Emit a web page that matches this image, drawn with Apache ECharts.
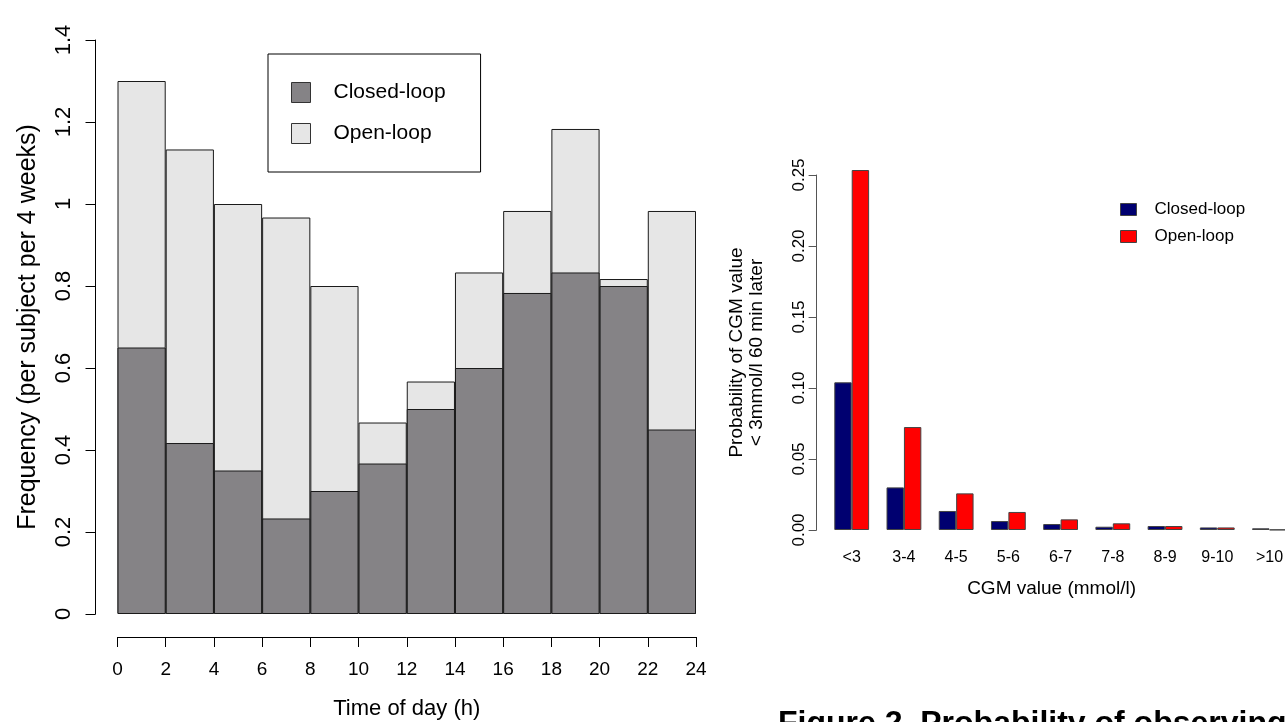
<!DOCTYPE html>
<html>
<head>
<meta charset="utf-8">
<script src="https://cdn.jsdelivr.net/npm/echarts@6/dist/echarts.min.js"></script>
<style>
html,body{margin:0;padding:0;background:#fff;}
#left{position:absolute;left:0;top:0;width:720px;height:722px;}
#right{position:absolute;left:700px;top:0;width:585px;height:722px;}
</style>
</head>
<body>
<div id="left"></div>
<div id="right"></div>
<script>
// ---- Left chart data ----
const timeBins = ['0-2','2-4','4-6','6-8','8-10','10-12','12-14','14-16','16-18','18-20','20-22','22-24'];
const timeTicksMin = 0;
const timeTicksMax = 24;
const timeTickStep = 2;
const openLoopFreq = [1.3, 1.133, 1.0, 0.967, 0.8, 0.467, 0.567, 0.833, 0.983, 1.183, 0.817, 0.983];
const closedLoopFreq = [0.65, 0.417, 0.35, 0.233, 0.3, 0.367, 0.5, 0.6, 0.783, 0.833, 0.8, 0.45];

// ---- Right chart data ----
const cgmCategories = ['<3','3-4','4-5','5-6','6-7','7-8','8-9','9-10','>10'];
const closedLoopProb = [0.104, 0.030, 0.0134, 0.0063, 0.0042, 0.0023, 0.0028, 0.0018, 0.0012];
const openLoopProb = [0.2535, 0.0725, 0.0258, 0.0127, 0.0075, 0.0047, 0.0028, 0.0018, 0.0002];

const FONT = '"Liberation Sans", Arial, sans-serif';

// ---------------- Left chart ----------------
const left = echarts.init(document.getElementById('left'), null, {renderer: 'canvas'});
left.setOption({
  animation: false,
  textStyle: {fontFamily: FONT, color: '#000'},
  grid: {left: 117.5, top: 40, width: 578.5, height: 574, outerBoundsMode: 'none', containLabel: false},
  legend: {
    orient: 'vertical',
    left: 268, top: 54,
    data: ['Closed-loop', 'Open-loop'],
    icon: 'rect',
    itemWidth: 19, itemHeight: 20, itemGap: 20,
    padding: [28, 35, 28, 23],
    borderColor: '#000', borderWidth: 1, borderRadius: 0,
    textStyle: {fontFamily: FONT, fontSize: 21, color: '#000', lineHeight: 20, padding: [0, 0, 0, 18]},
    itemStyle: {borderColor: '#333', borderWidth: 1}
  },
  xAxis: [
    {type: 'category', data: timeBins, show: false, boundaryGap: true},
    {
      type: 'value', min: timeTicksMin, max: timeTicksMax, interval: timeTickStep,
      position: 'bottom', offset: 23,
      axisLine: {show: true, onZero: false, lineStyle: {color: '#000', width: 1}},
      axisTick: {show: true, length: 10, lineStyle: {color: '#000'}},
      splitLine: {show: false},
      axisLabel: {fontFamily: FONT, fontSize: 19, color: '#000', margin: 23},
      name: 'Time of day (h)', nameLocation: 'middle', nameGap: 61,
      nameTextStyle: {fontFamily: FONT, fontSize: 22, color: '#000'}
    }
  ],
  yAxis: {
    type: 'value', min: 0, max: 1.4, interval: 0.2, offset: 22,
    axisLine: {show: true, onZero: false, lineStyle: {color: '#000', width: 1}},
    axisTick: {show: true, length: 10, lineStyle: {color: '#000'}},
    splitLine: {show: false},
    axisLabel: {
      fontFamily: FONT, fontSize: 22, color: '#000', rotate: 90, margin: 21,
      formatter: v => String(Math.round(v * 10) / 10)
    },
    name: 'Frequency (per subject per 4 weeks)', nameLocation: 'middle', nameRotate: 90, nameGap: 55,
    nameTextStyle: {fontFamily: FONT, fontSize: 25, color: '#000'}
  },
  series: [
    {
      name: 'Open-loop', type: 'bar', xAxisIndex: 0, data: openLoopFreq,
      barWidth: '100%', barGap: '-100%',
      itemStyle: {color: '#e6e6e6', borderColor: '#1a1a1a', borderWidth: 1}
    },
    {
      name: 'Closed-loop', type: 'bar', xAxisIndex: 0, data: closedLoopFreq,
      barWidth: '100%', barGap: '-100%',
      itemStyle: {color: '#858386', borderColor: '#1a1a1a', borderWidth: 1}
    }
  ]
});

// ---------------- Right chart ----------------
const right = echarts.init(document.getElementById('right'), null, {renderer: 'canvas'});
right.setOption({
  animation: false,
  textStyle: {fontFamily: FONT, color: '#000'},
  grid: {left: 125.6, top: 175, width: 470, height: 355, outerBoundsMode: 'none', containLabel: false},
  legend: {
    orient: 'vertical',
    left: 420, top: 201,
    data: ['Closed-loop', 'Open-loop'],
    icon: 'rect',
    itemWidth: 16, itemHeight: 12, itemGap: 10,
    padding: 0,
    textStyle: {fontFamily: FONT, fontSize: 17, color: '#000', lineHeight: 12, padding: [0, 0, 0, 13]},
    itemStyle: {borderColor: '#444', borderWidth: 1}
  },
  xAxis: {
    type: 'category', data: cgmCategories,
    axisLine: {show: false, onZero: false}, axisTick: {show: false},
    axisLabel: {fontFamily: FONT, fontSize: 16, color: '#000', margin: 20, interval: 0},
    name: 'CGM value (mmol/l)', nameLocation: 'middle', nameGap: 49,
    nameTextStyle: {fontFamily: FONT, fontSize: 19, color: '#000', padding: [0, 18, 0, 0]}
  },
  yAxis: {
    type: 'value', min: 0, max: 0.25, interval: 0.05, offset: 9,
    axisLine: {show: true, onZero: false, lineStyle: {color: '#555', width: 1}},
    axisTick: {show: true, length: 8, lineStyle: {color: '#555'}},
    splitLine: {show: false},
    axisLabel: {
      fontFamily: FONT, fontSize: 17, color: '#000', rotate: 90, margin: 9,
      formatter: v => v.toFixed(2)
    },
    name: 'Probability of CGM value\n< 3mmol/l 60 min later', nameLocation: 'middle', nameRotate: 90, nameGap: 50,
    nameTextStyle: {fontFamily: FONT, fontSize: 19, color: '#000', lineHeight: 20}
  },
  graphic: [{
    type: 'text', left: 78, top: 708,
    style: {text: 'Figure 2. Probability of observing', font: 'bold 32px "Liberation Sans", Arial, sans-serif', fill: '#000'}
  }],
  series: [
    {
      name: 'Closed-loop', type: 'bar', data: closedLoopProb, clip: false,
      barGap: '0%', barCategoryGap: '33.33%',
      itemStyle: {color: '#000070', borderColor: '#444', borderWidth: 1}
    },
    {
      name: 'Open-loop', type: 'bar', data: openLoopProb, clip: false,
      barGap: '0%', barCategoryGap: '33.33%',
      itemStyle: {color: '#ff0000', borderColor: '#444', borderWidth: 1}
    }
  ]
});
</script>
</body>
</html>
